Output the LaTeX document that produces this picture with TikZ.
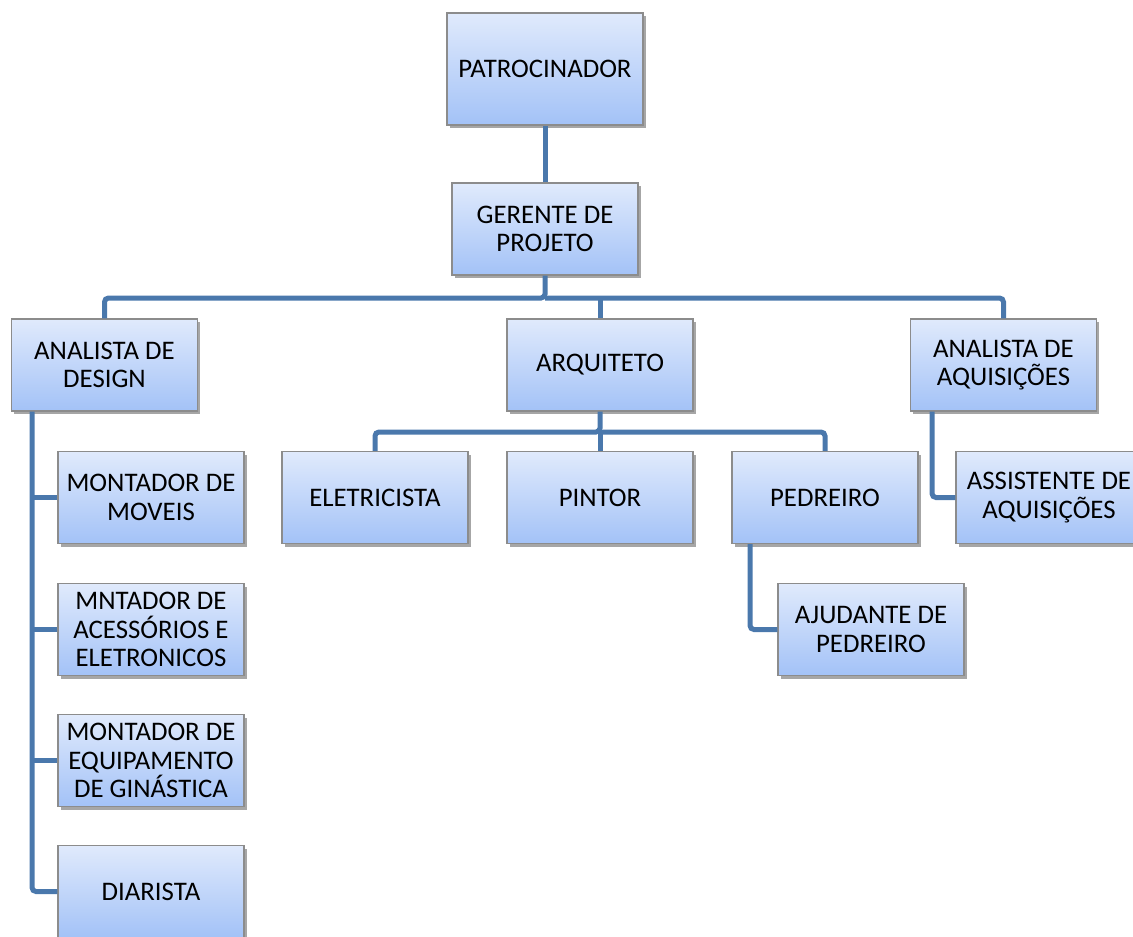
\documentclass[tikz,border=0pt]{standalone}
\usepackage{fontspec}
\setmainfont{Carlito}
\usetikzlibrary{shadows}
\definecolor{caixatopo}{HTML}{E0EAFC}
\definecolor{caixabase}{HTML}{A3C2F7}
\definecolor{borda}{HTML}{8C8C8C}
\definecolor{ligacao}{HTML}{4A78AC}
\tikzset{
	cargo/.style={draw=borda, line width=1.2pt, top color=caixatopo, bottom color=caixabase,
		minimum width=186pt, minimum height=92pt, inner sep=2pt, align=center,
		font=\fontsize{26.8pt}{28.5pt}\selectfont,
		drop shadow={shadow xshift=2.5pt, shadow yshift=-3pt, opacity=0.35, fill=black}},
	elo/.style={draw=ligacao, line width=5pt, rounded corners=4pt}
}
\begin{document}
\begin{tikzpicture}[x=1pt, y=-1pt]
	\useasboundingbox (0,0) rectangle (1133,937);
	\clip (0,0) rectangle (1133,937);
	% caixas
	\node [cargo, minimum width=196pt, minimum height=112pt] (patro) at (545,69) {PATROCINADOR};
	\node [cargo] (gerente) at (545,229) {GERENTE DE\\PROJETO};
	\node [cargo] (design) at (104.5,365) {ANALISTA DE\\DESIGN};
	\node [cargo] (arq) at (600,365) {ARQUITETO};
	\node [cargo] (aquis) at (1003.5,365) {ANALISTA DE\\AQUISIÇÕES};
	\node [cargo] (elet) at (375,497.5) {ELETRICISTA};
	\node [cargo] (pintor) at (600,497.5) {PINTOR};
	\node [cargo] (pedreiro) at (825,497.5) {PEDREIRO};
	\node [cargo] (assist) at (1049,497.5) {ASSISTENTE DE\\AQUISIÇÕES};
	\node [cargo] (ajud) at (871,629.5) {AJUDANTE DE\\PEDREIRO};
	\node [cargo] (moveis) at (151,497.5) {MONTADOR DE\\MOVEIS};
	\node [cargo] (acess) at (151,629.5) {MNTADOR DE\\ACESSÓRIOS E\\ELETRONICOS};
	\node [cargo] (ginast) at (151,760.5) {MONTADOR DE\\EQUIPAMENTO\\DE GINÁSTICA};
	\node [cargo] (diar) at (151,891.5) {DIARISTA};
	% ligacoes
	\coordinate (barra) at (0,298);
	\coordinate (barraarq) at (0,432);
	\coordinate (tronco) at (32,0);
	\coordinate (troncoped) at (750,0);
	\coordinate (troncoaq) at (932,0);
	\draw [elo] (patro) -- (gerente);
	\draw [elo] (gerente.south) -- (gerente.south |- barra) -| (design.north);
	\draw [elo] (gerente.south |- barra) -| (aquis.north);
	\draw [elo] (arq.north |- barra) -- (arq.north);
	\draw [elo] (arq.south) -- (arq.south |- barraarq) -| (elet.north);
	\draw [elo] (arq.south |- barraarq) -| (pedreiro.north);
	\draw [elo] (pintor.north |- barraarq) -- (pintor.north);
	\draw [elo] (pedreiro.south -| troncoped) |- (ajud.west);
	\draw [elo] (aquis.south -| troncoaq) |- (assist.west);
	\draw [elo] (design.south -| tronco) |- (diar.west);
	\foreach \n in {moveis,acess,ginast}
		\draw [elo] (\n.west -| tronco) -- (\n.west);
\end{tikzpicture}
\end{document}
